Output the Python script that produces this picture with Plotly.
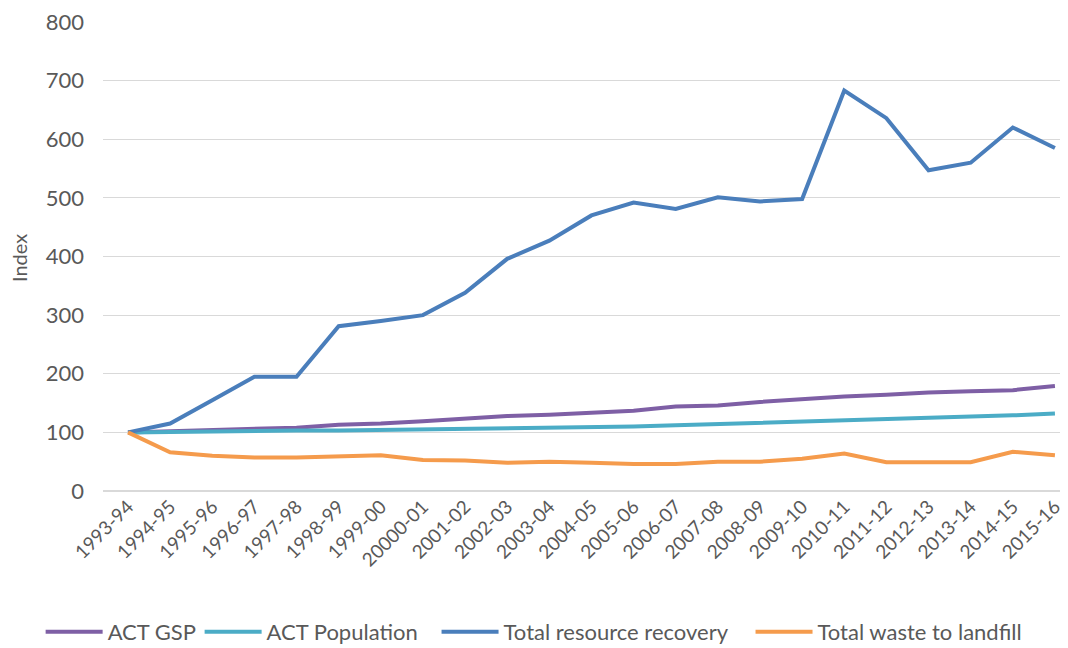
import plotly.graph_objects as go

# financial years on the category axis
years = ['1993-94', '1994-95', '1995-96', '1996-97', '1997-98', '1998-99', '1999-00',
         '20000-01', '2001-02', '2002-03', '2003-04', '2004-05', '2005-06', '2006-07',
         '2007-08', '2008-09', '2009-10', '2010-11', '2011-12', '2012-13', '2013-14',
         '2014-15', '2015-16']

# index values (1993-94 = 100)
act_gsp = [100, 102, 103, 105, 108, 113, 115, 119, 124, 128, 130, 133, 137, 144,
           146, 152, 157, 161, 164, 168, 170, 172, 179]
act_population = [100, 101, 102, 103, 103, 103, 104, 104, 105, 106, 107, 108, 110, 112,
                  114, 116, 118, 120, 122, 124, 126, 129, 132]
resource_recovery = [100, 115, 155, 195, 195, 281, 290, 300, 338, 396, 427, 470, 492, 481,
                     501, 494, 498, 683, 636, 547, 560, 620, 585]
waste_to_landfill = [100, 66, 60, 57, 57, 59, 61, 53, 52, 48, 50, 48, 46, 46,
                     50, 50, 55, 64, 49, 49, 49, 67, 61]

series = [
    ('ACT GSP', act_gsp, '#7e5fa5'),
    ('ACT Population', act_population, '#4bacc6'),
    ('Total resource recovery', resource_recovery, '#4a7ebb'),
    ('Total waste to landfill', waste_to_landfill, '#f59b4c'),
]

font_family = 'Lato, Open Sans, sans-serif'
grey = '#595959'

# one legend per entry so the spacing can follow the original
legend_ids = ['legend', 'legend2', 'legend3', 'legend4']
legend_x = [-0.0641, 0.0993, 0.3428, 0.6655]

fig = go.Figure()

for (name, values, color), leg in zip(series, legend_ids):
    fig.add_trace(go.Scatter(
        x=years, y=values, name=name, mode='lines',
        line=dict(color=color, width=4), legend=leg,
    ))

layout_legends = {}
for leg, lx in zip(legend_ids, legend_x):
    layout_legends[leg] = dict(
        orientation='h', x=lx, xanchor='left', y=-0.3006, yanchor='middle',
        font=dict(size=22, color=grey), itemwidth=57, bgcolor='rgba(0,0,0,0)',
    )

# the page body shifts the figure by 8px, margins are set with that in mind
fig.update_layout(
    width=1068, height=648,
    margin=dict(l=95, r=0, t=14, b=165),
    plot_bgcolor='white', paper_bgcolor='white',
    font=dict(family=font_family, color=grey),
    showlegend=True,
    **layout_legends,
)

# y axis title placed by hand, left of the tick labels
fig.add_annotation(
    text='Index', xref='paper', yref='paper', x=-0.0863, y=0.4968,
    xanchor='center', yanchor='middle', textangle=-90, showarrow=False,
    font=dict(size=20, color=grey),
)

fig.update_xaxes(
    type='category', range=[-0.593, 22.5], automargin=False,
    tickangle=-45, tickfont=dict(size=19, color=grey),
    showgrid=False, showline=False, ticks='',
)
fig.update_yaxes(
    range=[0, 800], dtick=100, automargin=False, ticklabeloverflow='allow',
    gridcolor='#d9d9d9', gridwidth=1, zeroline=True, zerolinecolor='#d9d9d9',
    tickfont=dict(size=22, color=grey), ticks='', ticklabelstandoff=18,
)

fig.write_html("out.html")
